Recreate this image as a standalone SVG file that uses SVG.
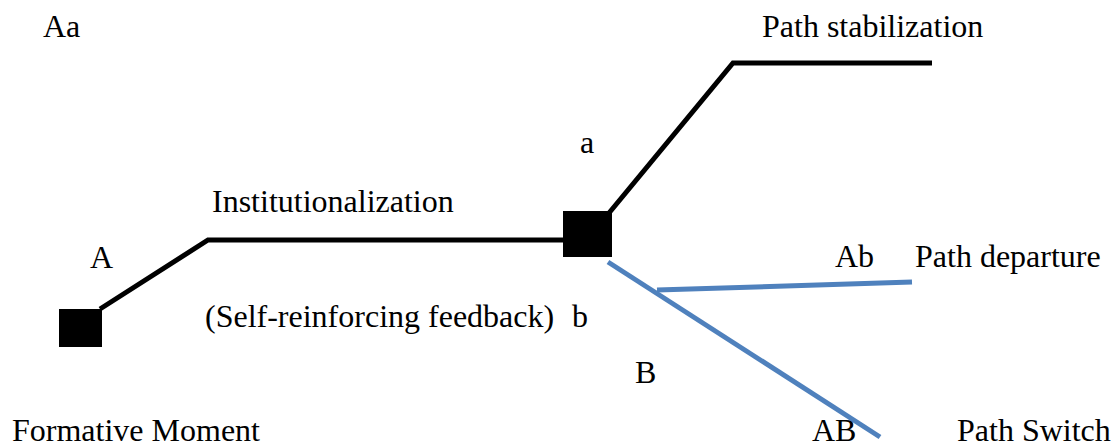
<svg xmlns="http://www.w3.org/2000/svg" width="1112" height="446" viewBox="0 0 1112 446">
<style>
  text { font-family: "Liberation Serif", "Times New Roman", serif; font-size: 32px; fill: #000; }
  .blk { fill: none; stroke: #000; stroke-width: 5; stroke-linejoin: miter; }
  .blu { fill: none; stroke: #4f81bd; stroke-width: 5; }
  .sq { fill: #000; }
</style>
<rect width="1112" height="446" fill="#fff"/>
<g id="connectors">
  <polyline class="blk" points="100,309 208,240 565,240"/>
  <polyline class="blk" points="609,213 733,63 932,63"/>
  <line class="blu" x1="608" y1="262" x2="880" y2="437"/>
  <line class="blu" x1="657" y1="290" x2="912" y2="282" stroke-width="6"/>
</g>
<g id="node-formative">
  <rect class="sq" x="59" y="309" width="43" height="38"/>
  <text x="12" y="441">Formative Moment</text>
</g>
<g id="node-critical">
  <rect class="sq" x="563" y="211" width="49" height="46"/>
</g>
<g id="labels">
  <text x="43" y="37">Aa</text>
  <text x="762" y="37">Path stabilization</text>
  <text x="580" y="153">a</text>
  <text x="212" y="212">Institutionalization</text>
  <text x="90" y="268">A</text>
  <text x="835" y="267">Ab</text>
  <text x="915" y="267">Path departure</text>
  <text x="205" y="327">(Self-reinforcing feedback)</text>
  <text x="572" y="327">b</text>
  <text x="635" y="383">B</text>
  <text x="812" y="441">AB</text>
  <text x="957" y="441">Path Switch</text>
</g>
</svg>
